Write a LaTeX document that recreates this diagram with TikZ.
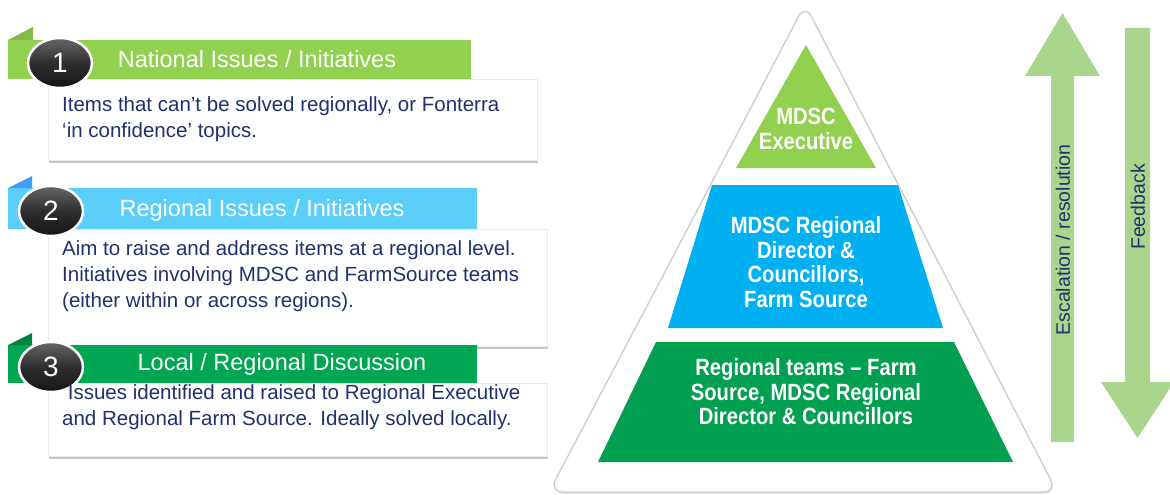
\documentclass[tikz,border=0pt]{standalone}
\usepackage{fontspec}
\setmainfont{Liberation Sans}
\newfontfamily\narrowsans[FakeStretch=0.86]{Liberation Sans}
\usetikzlibrary{shapes.geometric,shadows}

\definecolor{natgreen}{RGB}{146,208,80}
\definecolor{regblue}{RGB}{91,207,250}
\definecolor{locgreen}{RGB}{0,166,81}
\definecolor{pyrblue}{RGB}{0,176,240}
\definecolor{pyrgreen}{RGB}{0,160,80}
\definecolor{arrowgreen}{RGB}{169,214,140}
\definecolor{navytext}{RGB}{31,50,110}

\tikzset{
  infobox/.style={fill=white, draw=black!8, line width=0.6pt,
    drop shadow={shadow xshift=1pt, shadow yshift=-2.5pt, opacity=0.45}},
  numball/.style={ellipse, minimum width=64pt, minimum height=50pt, inner sep=0pt,
    draw=white, line width=2.5pt, top color=black!60, bottom color=black!92,
    middle color=black!82, text=white, font=\fontsize{28}{28}\selectfont},
  bandtitle/.style={text=white, font=\fontsize{23.5}{26}\selectfont},
  bodytext/.style={text=navytext, anchor=west, align=left, inner sep=0pt,
    font=\fontsize{20.5}{26}\selectfont},
  tiertext/.style={text=white, align=center, font=\narrowsans\bfseries\fontsize{23.5}{24.5}\selectfont},
  sidetext/.style={text=navytext, rotate=90, font=\fontsize{19.5}{21}\selectfont}
}

\begin{document}
\begin{tikzpicture}[x=1pt, y=-1pt]
  \useasboundingbox (0,0) rectangle (1170,495);
  % Draw the white text boxes under the coloured bands
  \begin{scope}
    \draw[infobox] (48,79) rectangle (537,160);
    \draw[infobox] (48,229) rectangle (547,346);
    \draw[infobox] (48,383) rectangle (547,456);
  \end{scope}
  % Draw the bands with their folded tabs
  \begin{scope}[fill=natgreen]
    \fill (8,40) rectangle (471,79);
    \fill[natgreen!90!black] (8,40) -- (33,27) -- (33,40) -- cycle;
  \end{scope}
  \begin{scope}[fill=regblue]
    \fill (8,188) rectangle (477,229);
    \fill[regblue!75!blue] (8,188) -- (32,176) -- (32,188) -- cycle;
  \end{scope}
  \begin{scope}[fill=locgreen]
    \fill (8,345) rectangle (477,383);
    \fill[locgreen!80!black] (8,345) -- (32,333) -- (32,345) -- cycle;
  \end{scope}
  % Band titles and numbers
  \node[bandtitle] (nattitle) at (257,59) {National Issues / Initiatives};
  \node[bandtitle] (regtitle) at (262,210) {Regional Issues / Initiatives};
  \node[bandtitle] (loctitle) at (282,364) {Local / Regional Discussion};
  \node[numball] (one) at (60,63) {1};
  \node[numball] (two) at (51,211) {2};
  \node[numball] (three) at (51,367) {3};
  % Body texts
  \node[bodytext] (natbody) at (62,119)
    {Items that can’t be solved regionally, or Fonterra\\‘in confidence’ topics.};
  \node[bodytext] (regbody) at (62,276)
    {Aim to raise and address items at a regional level.\\Initiatives involving MDSC and FarmSource teams\\(either within or across regions).};
  \node[bodytext] (locbody) at (62,407)
    {\ Issues identified and raised to Regional Executive\\and Regional Farm Source. Ideally solved locally.};
  % Draw the pyramid
  \draw[fill=white, draw=black!18, line width=1.5pt, rounded corners=14pt,
    drop shadow={shadow xshift=1pt, shadow yshift=-1.5pt, opacity=0.25}]
    (677,249) -- (805,4) -- (1057,492) -- (549,492) -- cycle;
  \fill[natgreen] (806,45) -- (876,168) -- (736,168) -- cycle;
  \fill[pyrblue] (712,185) -- (898,185) -- (943,328) -- (668,328) -- cycle;
  \fill[pyrgreen] (656,342) -- (954,342) -- (1013,462) -- (598,462) -- cycle;
  \node[tiertext] (exec) at (806,129) {MDSC\\Executive};
  \node[tiertext] (director) at (806,262) {MDSC Regional\\Director \&\\Councillors,\\Farm Source};
  \node[tiertext] (teams) at (806,392) {Regional teams – Farm\\Source, MDSC Regional\\Director \& Councillors};
  % Draw the escalation and feedback arrows
  \begin{scope}[fill=arrowgreen]
    \fill (1051,442) -- (1051,76) -- (1025,76) -- (1062.5,13) -- (1100,76)
      -- (1074,76) -- (1074,442) -- cycle;
    \fill (1125,28) -- (1150,28) -- (1150,382) -- (1174,382) -- (1137.5,438)
      -- (1101,382) -- (1125,382) -- cycle;
  \end{scope}
  \node[sidetext] (escalation) at (1063,240) {Escalation / resolution};
  \node[sidetext] (feedback) at (1138,207) {Feedback};
\end{tikzpicture}
\end{document}
